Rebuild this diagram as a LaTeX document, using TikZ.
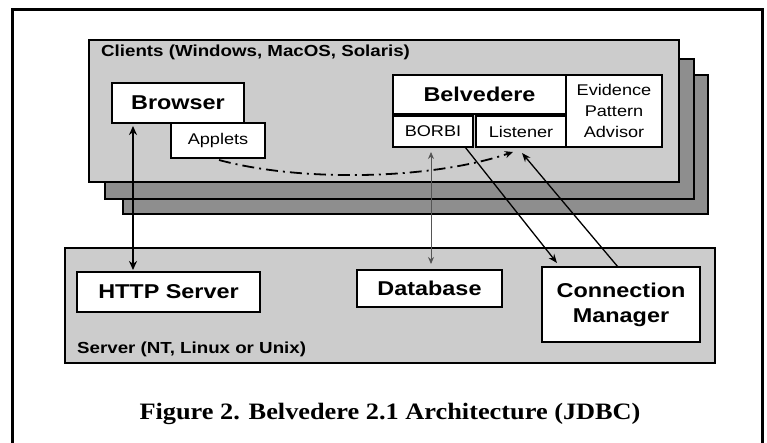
\documentclass[tikz,border=0pt]{standalone}
\usepackage{fontspec}
\setmainfont{Liberation Sans}[FakeStretch=1.17]
\newfontfamily\capfont{Liberation Serif}[FakeStretch=1.12]
\usetikzlibrary{arrows.meta}
\definecolor{panelgray}{HTML}{CCCCCC}
\definecolor{shadowgray}{HTML}{8E8E8E}
\definecolor{thingray}{HTML}{555555}
\tikzset{
  framestyle/.style={line width=3pt},
  panel/.style={draw, line width=2pt, fill=panelgray, inner sep=0pt, outer sep=0pt},
  shadowbox/.style={draw, line width=2pt, fill=shadowgray, inner sep=0pt, outer sep=0pt},
  box/.style={draw, line width=2.2pt, fill=white, inner sep=0pt, outer sep=0pt, align=center},
  bigtext/.style={font=\fontsize{20}{25}\selectfont\bfseries},
  smalltext/.style={font=\fontsize{15.5}{21}\selectfont},
  labeltext/.style={font=\fontsize{16}{19}\selectfont\bfseries, anchor=base west, inner sep=0pt},
  thickarrow/.style={line width=2.2pt, {Stealth[length=9pt,width=8pt]}-{Stealth[length=9pt,width=8pt]}},
  thinarrow/.style={line width=0.8pt, draw=thingray, {Stealth[length=7pt,width=6pt]}-{Stealth[length=7pt,width=6pt]}},
  midarrow/.style={line width=1.3pt, -{Stealth[length=9pt,width=7pt]}},
  dasharrow/.style={line width=1.8pt, dash pattern=on 12pt off 5pt on 2pt off 5pt, -{Stealth[length=8pt,width=7pt]}}
}
\begin{document}
\begin{tikzpicture}[x=1pt, y=-1pt]
\useasboundingbox (0,0) rectangle (767,443);
% outer frame (bottom lies outside the picture)
\draw[framestyle] (12.5,470) -- (12.5,9.5) -- (762,9.5) -- (762,470);

% client stack
\node[shadowbox, minimum width=585pt, minimum height=139pt] (shadowtwo) at (415.5,144.5) {};
\node[shadowbox, minimum width=589pt, minimum height=140pt] (shadowone) at (399.5,129) {};
\node[panel, minimum width=590pt, minimum height=142pt] (clients) at (384,111) {};
\node[labeltext] (clientslabel) at (101,57) {Clients (Windows, MacOS, Solaris)};

\node[box, bigtext, minimum width=132pt, minimum height=40pt] (browser) at (178,103) {Browser};
\node[box, smalltext, minimum width=94pt, minimum height=35pt] (applets) at (218,140.5) {Applets};

\node[box, bigtext, minimum width=173pt, minimum height=39pt] (belvedere) at (479.5,94.5) {Belvedere};
\node[box, smalltext, minimum width=80pt, minimum height=31pt] (borbi) at (433,131.5) {BORBI};
\node[box, smalltext, minimum width=90pt, minimum height=31pt] (listener) at (521,131.5) {Listener};
\node[box, smalltext, minimum width=96pt, minimum height=72pt] (evidence) at (614,111) {Evidence\\Pattern\\Advisor};

% server
\node[panel, minimum width=650pt, minimum height=115pt] (server) at (390,305.5) {};
\node[labeltext] (serverlabel) at (77,353) {Server (NT, Linux or Unix)};
\node[box, bigtext, minimum width=183pt, minimum height=40pt] (http) at (168.5,292) {HTTP Server};
\node[box, bigtext, minimum width=145pt, minimum height=37pt] (database) at (429.5,288.5) {Database};
\node[box, bigtext, minimum width=158pt, minimum height=75pt] (cm) at (621,304.5) {Connection\\Manager};

% connectors
\draw[thickarrow, shorten <=3pt, shorten >=2pt]
  ([xshift=21pt]browser.south west) -- ([xshift=21pt]browser.south west |- http.north);
\draw[thinarrow, shorten <=5pt, shorten >=6pt]
  ([xshift=-2pt]borbi.south) -- ([xshift=-2pt]borbi.south |- database.north);
\draw[midarrow]
  ([xshift=-8pt]borbi.south east) -- ([xshift=15pt,yshift=4pt]cm.north west);
\draw[midarrow]
  ([xshift=76pt]cm.north west) -- ([xshift=46pt,yshift=-6pt]listener.south west);
\draw[dasharrow]
  ([xshift=1pt,yshift=-2pt]applets.south) .. controls (300,182) and (430,180) .. ([xshift=37pt,yshift=-5pt]listener.south west);

% caption
\node[font=\capfont\fontsize{23.5}{27}\selectfont\bfseries, anchor=base, inner sep=0pt] (caption) at (390,419) {Figure 2. Belvedere 2.1 Architecture (JDBC)};
\end{tikzpicture}
\end{document}
